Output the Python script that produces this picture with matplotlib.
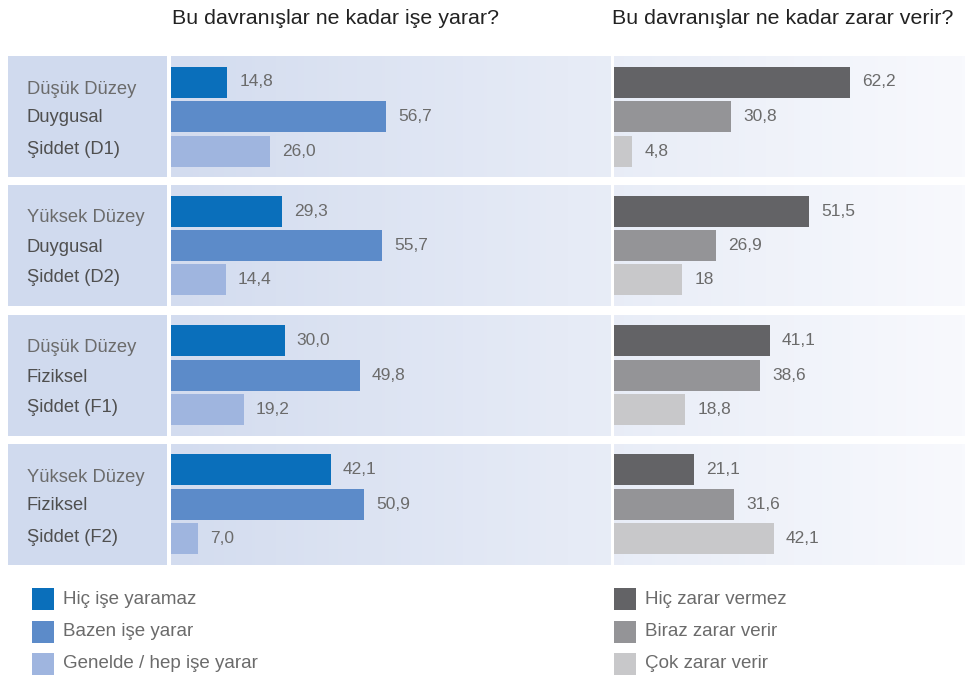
import matplotlib.pyplot as plt
import numpy as np
from matplotlib.patches import Rectangle
from matplotlib.colors import LinearSegmentedColormap

# Data
groups = [("Düşük Düzey", "Duygusal", "Şiddet (D1)"),
          ("Yüksek Düzey", "Duygusal", "Şiddet (D2)"),
          ("Düşük Düzey", "Fiziksel", "Şiddet (F1)"),
          ("Yüksek Düzey", "Fiziksel", "Şiddet (F2)")]
left_series = ["Hiç işe yaramaz", "Bazen işe yarar", "Genelde / hep işe yarar"]
right_series = ["Hiç zarar vermez", "Biraz zarar verir", "Çok zarar verir"]
left_values = np.array([[14.8, 56.7, 26.0],
                        [29.3, 55.7, 14.4],
                        [30.0, 49.8, 19.2],
                        [42.1, 50.9, 7.0]])
right_values = np.array([[62.2, 30.8, 4.8],
                         [51.5, 26.9, 18],
                         [41.1, 38.6, 18.8],
                         [21.1, 31.6, 42.1]])
left_title = "Bu davranışlar ne kadar işe yarar?"
right_title = "Bu davranışlar ne kadar zarar verir?"

left_colors = ["#0a6fbb", "#5c8bc9", "#9fb5df"]
right_colors = ["#636366", "#949497", "#c8c8ca"]
text_gray = "#6b6b6b"

plt.rcParams['font.family'] = ['Liberation Sans', 'DejaVu Sans']

W, H = 965, 679
fig = plt.figure(figsize=(W / 100, H / 100), dpi=100)

# background in pixel coordinates
bg = fig.add_axes([0, 0, 1, 1])
bg.set_xlim(0, W)
bg.set_ylim(H, 0)
bg.axis("off")

panel_tops = [56, 185, 315, 444]
panel_h = 121
cmap = LinearSegmentedColormap.from_list("bgfade", ["#d3dcef", "#e6ebf6", "#f8f9fd"])
grad = np.linspace(0, 1, 256).reshape(1, -1)
for top in panel_tops:
    bg.add_patch(Rectangle((8, top), 159, panel_h, color="#d0daee", lw=0))
    bg.imshow(grad, cmap=cmap, aspect="auto", extent=(171, W, top + panel_h, top), zorder=0)
    bg.add_patch(Rectangle((611, top), 3, panel_h, color="white", lw=0, zorder=1))

# group labels
for top, (l1, l2, l3) in zip(panel_tops, groups):
    bg.text(27, top + 33, l1, fontsize=13.2, color=text_gray, va="center", ha="left")
    bg.text(27, top + 62, l2, fontsize=13.2, color="#4f4f4f", va="center", ha="left")
    bg.text(27, top + 93, l3, fontsize=13.2, color="#4f4f4f", va="center", ha="left")

bg.text(172, 18, left_title, fontsize=15.4, color="#222222", va="center", ha="left")
bg.text(612, 18, right_title, fontsize=15.4, color="#222222", va="center", ha="left")

# bar axes (y in pixel units, x in percent)
px_per_unit = 3.79
centers = np.array([top + panel_h / 2 for top in panel_tops])
offsets = np.array([-34.5, 0, 34.5])


def bar_axes(x0, x1, values, colors, fmt):
    ax = fig.add_axes([x0 / W, 1 - 565 / H, (x1 - x0) / W, (565 - 56) / H])
    ax.set_xlim(0, (x1 - x0) / px_per_unit)
    ax.set_ylim(565, 56)
    ax.axis("off")
    for g in range(values.shape[0]):
        for s in range(values.shape[1]):
            y = centers[g] + offsets[s]
            v = values[g, s]
            ax.barh(y, v, height=31, color=colors[s], lw=0)
            ax.text(v + 3.2, y, fmt(v).replace(".", ","), fontsize=12.5,
                    color=text_gray, va="center", ha="left")
    return ax


bar_axes(171, 611, left_values, left_colors, lambda v: f"{v:.1f}")
bar_axes(614, W, right_values, right_colors, lambda v: f"{v:g}")

# legends
for x0, names, colors in [(32, left_series, left_colors), (614, right_series, right_colors)]:
    for i, (name, c) in enumerate(zip(names, colors)):
        y = 599 + 32.5 * i
        bg.add_patch(Rectangle((x0, y - 11), 22, 22, color=c, lw=0))
        bg.text(x0 + 31, y, name, fontsize=13.5, color=text_gray, va="center", ha="left")

fig.savefig("out.png", dpi=100)
